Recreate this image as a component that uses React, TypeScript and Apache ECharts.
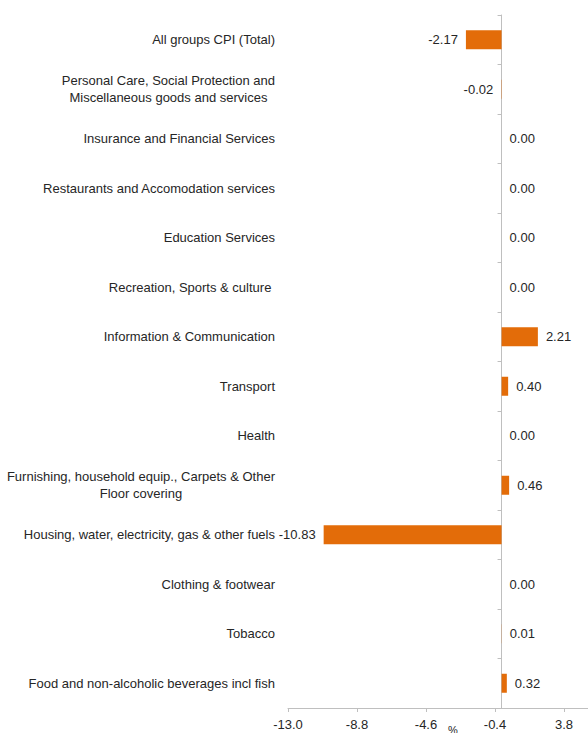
import React, { useEffect, useRef } from "react";
import * as echarts from "echarts";

const categories: string[] = [
  "Food and non-alcoholic beverages incl fish",
  "Tobacco",
  "Clothing & footwear",
  "Housing, water, electricity, gas & other fuels",
  "Furnishing, household equip., Carpets & Other\nFloor covering",
  "Health",
  "Transport",
  "Information & Communication",
  "Recreation, Sports & culture ",
  "Education Services",
  "Restaurants and Accomodation services",
  "Insurance and Financial Services",
  "Personal Care, Social Protection and\nMiscellaneous goods and services",
  "All groups CPI (Total)",
];

const values: number[] = [0.32, 0.01, 0.0, -10.83, 0.46, 0.0, 0.4, 2.21, 0.0, 0.0, 0.0, 0.0, -0.02, -2.17];

const axisMin = -13.0;
const axisMax = 8.0;
const axisInterval = 4.2;
const axisName = "%";

const FONT = "Liberation Sans";
const TEXT = "#262626";
const BAR = "#E36C09";
const AXIS = "#BFBFBF";

export default function App() {
  const ref = useRef<HTMLDivElement>(null);
  useEffect(() => {
    if (!ref.current) return;
    const chart = echarts.init(ref.current, null, { renderer: "svg" });
    chart.setOption({
      animation: false,
      grid: {
        left: 288,
        top: 15,
        width: 345,
        height: 693,
        containLabel: false,
        outerBoundsMode: "none",
      },
      xAxis: {
        type: "value",
        min: axisMin,
        max: axisMax,
        interval: axisInterval,
        position: "bottom",
        splitLine: { show: false },
        axisLine: { show: true, onZero: false, lineStyle: { color: AXIS, width: 1 } },
        axisTick: { show: true, length: 4, lineStyle: { color: AXIS } },
        axisLabel: {
          margin: 10,
          fontFamily: FONT,
          fontSize: 13,
          color: TEXT,
          showMaxLabel: false,
          formatter: (v: number) => v.toFixed(1),
        },
      },
      yAxis: {
        type: "category",
        data: categories,
        axisLine: { show: true, onZero: true, lineStyle: { color: AXIS, width: 1 } },
        axisTick: { show: true, length: 4, lineStyle: { color: AXIS } },
        splitLine: { show: false },
        axisLabel: {
          margin: 13,
          interval: 0,
          fontFamily: FONT,
          fontSize: 13,
          color: TEXT,
          lineHeight: 17,
          formatter: (v: string) => {
            const lines = v.split("\n");
            if (lines.length === 1) return v;
            return lines.map((l) => "{c|" + l + "}").join("\n");
          },
          rich: {
            c: { align: "center", fontFamily: FONT, fontSize: 13, color: TEXT, lineHeight: 17 },
          },
        },
      },
      graphic: [
        {
          type: "text",
          left: 448,
          top: 724,
          style: { text: axisName, fontFamily: FONT, fontSize: 11, fill: TEXT },
        },
      ],
      series: [
        {
          type: "bar",
          barWidth: 19,
          itemStyle: { color: BAR },
          data: values.map((v) => ({
            value: v,
            label: { position: v < 0 ? "left" : "right" },
          })),
          label: {
            show: true,
            distance: 8,
            fontFamily: FONT,
            fontSize: 13,
            color: TEXT,
            formatter: (p: any) => Number(p.value).toFixed(2),
          },
        },
      ],
    });
    return () => chart.dispose();
  }, []);
  return (
    <div
      ref={ref}
      style={{ position: "fixed", left: 0, top: 0, width: 588, height: 733, background: "#fff" }}
    />
  );
}
